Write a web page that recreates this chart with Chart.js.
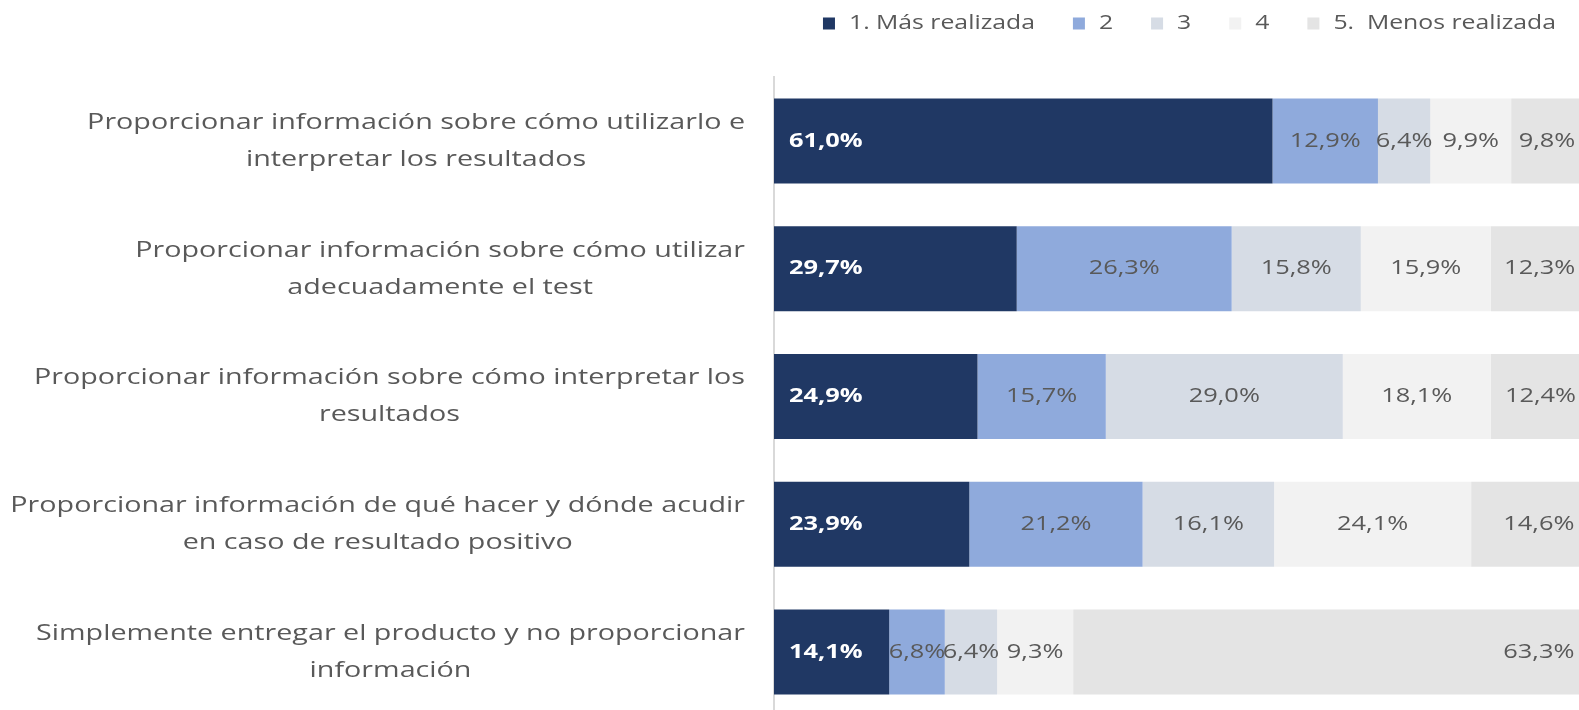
<!DOCTYPE html>
<html>
<head>
<meta charset="utf-8">
<script src="https://cdn.jsdelivr.net/npm/chart.js@4.4.1/dist/chart.umd.min.js"></script>
<style>
    html, body { margin: 0; padding: 0; overflow: hidden; background: #fff; }
    #wrap { position: absolute; left: 0; top: 0; width: 1579px; height: 716px; }
</style>
</head>
<body>
<div id="wrap"><canvas id="rankChart"></canvas></div>
<script>
const categories = [
    ['Proporcionar información sobre cómo utilizarlo e', 'interpretar los resultados'],
    ['Proporcionar información sobre cómo utilizar', 'adecuadamente el test'],
    ['Proporcionar información sobre cómo interpretar los', 'resultados'],
    ['Proporcionar información de qué hacer y dónde acudir', 'en caso de resultado positivo'],
    ['Simplemente entregar el producto y no proporcionar', 'información']
];
const seriesNames = ['1. Más realizada', '2', '3', '4', '5.  Menos realizada'];
const rank1 = [61.0, 29.7, 24.9, 23.9, 14.1];
const rank2 = [12.9, 26.3, 15.7, 21.2, 6.8];
const rank3 = [6.4, 15.8, 29.0, 16.1, 6.4];
const rank4 = [9.9, 15.9, 18.1, 24.1, 9.3];
const rank5 = [9.8, 12.3, 12.4, 14.6, 63.3];

const colors = ['#203864', '#8FAADC', '#D6DCE5', '#F2F2F2', '#E4E4E4'];
const textGray = '#595959';
const STRETCH = 1.27;
const FONT = '"Open Sans", sans-serif';

// text in the original is drawn wide, so squeeze it out horizontally
const wideText = (ctx, text, x, y, align) => {
    ctx.save();
    ctx.translate(x, y);
    ctx.scale(STRETCH, 1);
    ctx.textAlign = align;
    ctx.textBaseline = 'middle';
    ctx.fillText(text, 0, 0);
    ctx.restore();
};

const fmt = (v) => v.toFixed(1).replace('.', ',') + '%';

const valueLabels = {
    id: 'valueLabels',
    afterDatasetsDraw(chart) {
        const { ctx } = chart;
        chart.data.datasets.forEach((ds, i) => {
            const meta = chart.getDatasetMeta(i);
            meta.data.forEach((bar, j) => {
                const v = ds.data[j];
                if (i === 0) {
                    ctx.font = `bold 20px ${FONT}`;
                    ctx.fillStyle = '#ffffff';
                    wideText(ctx, fmt(v), bar.base + 15, bar.y, 'left');
                } else if (i === 4) {
                    ctx.font = `20px ${FONT}`;
                    ctx.fillStyle = textGray;
                    wideText(ctx, fmt(v), bar.x - 16, bar.y, 'right');
                } else {
                    ctx.font = `20px ${FONT}`;
                    ctx.fillStyle = textGray;
                    wideText(ctx, fmt(v), (bar.x + bar.base) / 2, bar.y, 'center');
                }
            });
        });
    }
};

const categoryLabels = {
    id: 'categoryLabels',
    afterDraw(chart) {
        const { ctx } = chart;
        const yScale = chart.scales.y;
        const rightEdge = 745;
        const lineGap = 37;
        ctx.save();
        ctx.font = `22.6px ${FONT}`;
        ctx.fillStyle = textGray;
        chart.data.labels.forEach((lines, i) => {
            const py = yScale.getPixelForTick(i);
            const blockW = Math.max(...lines.map(l => ctx.measureText(l).width)) * STRETCH;
            const cx = rightEdge - blockW / 2;
            lines.forEach((line, k) => {
                wideText(ctx, line, cx, py + (k - (lines.length - 1) / 2) * lineGap, 'center');
            });
        });
        ctx.restore();
    }
};

const topLegend = {
    id: 'topLegend',
    afterDraw(chart) {
        const { ctx } = chart;
        const box = 12, boxGap = 14, itemGap = 38, right = 1556, cy = 23.5;
        ctx.save();
        ctx.font = `19.5px ${FONT}`;
        const items = chart.data.datasets.map(ds => ({
            text: ds.label, color: ds.backgroundColor,
            w: ctx.measureText(ds.label).width * STRETCH
        }));
        const total = items.reduce((s, it) => s + box + boxGap + it.w, 0) + itemGap * (items.length - 1);
        let x = right - total;
        items.forEach(it => {
            ctx.fillStyle = it.color;
            ctx.fillRect(x, cy - box / 2, box, box);
            ctx.fillStyle = textGray;
            wideText(ctx, it.text, x + box + boxGap, cy, 'left');
            x += box + boxGap + it.w + itemGap;
        });
        ctx.restore();
    }
};

const values = [rank1, rank2, rank3, rank4, rank5];

new Chart(document.getElementById('rankChart'), {
    type: 'bar',
    data: {
        labels: categories,
        datasets: values.map((d, i) => ({
            label: seriesNames[i],
            data: d,
            backgroundColor: colors[i],
            borderWidth: 0,
            barPercentage: 0.665,
            categoryPercentage: 1
        }))
    },
    options: {
        indexAxis: 'y',
        responsive: true,
        maintainAspectRatio: false,
        animation: false,
        layout: { padding: { top: 77, left: 0, right: 0, bottom: 0 } },
        scales: {
            x: { stacked: true, display: false, min: 0, max: 98.5 },
            y: {
                stacked: true,
                grid: { display: false },
                border: { display: true, color: '#D9D9D9', width: 2 },
                ticks: { display: false },
                afterFit(scale) { scale.width = 774; }
            }
        },
        plugins: {
            legend: { display: false },
            tooltip: { enabled: false }
        }
    },
    plugins: [valueLabels, categoryLabels, topLegend]
});
</script>
</body>
</html>
